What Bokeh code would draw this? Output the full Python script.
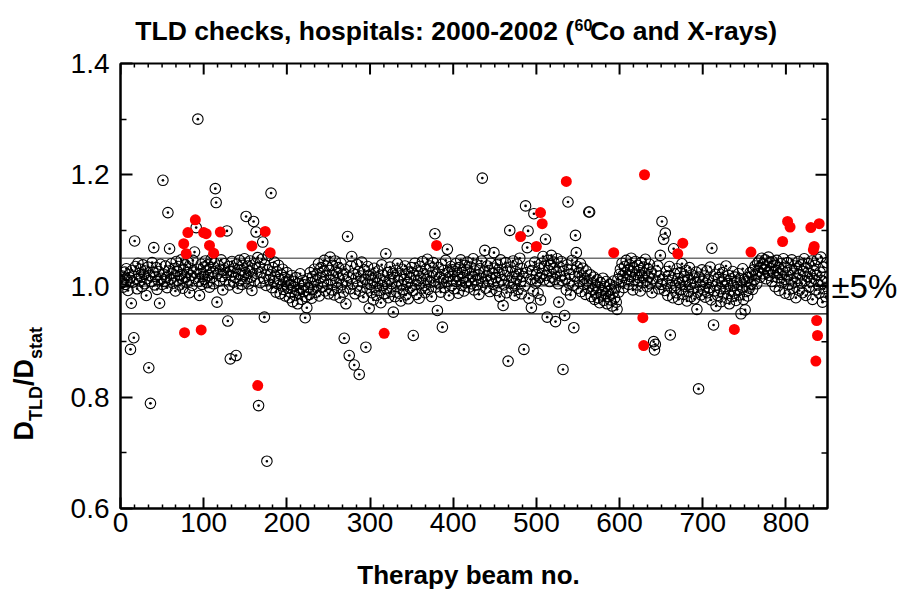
import math
from bokeh.plotting import figure
from bokeh.layouts import row, column
from bokeh.models import LinearAxis, FixedTicker, Span, Range1d, NumeralTickFormatter
from bokeh.core.properties import value
from bokeh.embed import file_html
from bokeh.resources import INLINE

# ---------------- data ----------------
# TLD / stated dose ratio for therapy beams 1..850 (open circles)
ratio_001_050 = [1.005, 1.018, 0.998, 1.012, 1.025, 1.003, 1.031, 1.010, 0.992, 1.020,
                 1.015, 0.886, 0.969, 1.028, 1.007, 0.907, 1.081, 1.035, 1.012, 0.995,
                 1.041, 1.022, 1.009, 1.030, 1.016, 0.999, 1.038, 1.021, 1.004, 1.027,
                 0.983, 1.013, 1.034, 0.853, 1.019, 0.789, 1.008, 1.042, 1.025, 1.069,
                 1.002, 1.017, 1.033, 0.994, 1.011, 1.026, 0.969, 1.039, 1.014, 1.003]
ratio_051_100 = [1.190, 1.021, 1.008, 1.036, 1.015, 0.997, 1.132, 1.027, 1.067, 1.012,
                 1.040, 1.023, 1.005, 1.031, 1.018, 0.991, 1.044, 1.026, 1.010, 1.035,
                 1.002, 1.020, 1.047, 1.013, 0.996, 1.029, 1.016, 1.038, 1.007, 1.024,
                 1.043, 1.011, 0.988, 1.032, 1.019, 1.001, 1.046, 1.025, 1.061, 1.014,
                 1.105, 1.030, 1.300, 1.008, 0.983, 1.022, 1.039, 1.003, 1.017, 1.034]
ratio_101_150 = [1.012, 1.045, 1.027, 1.006, 1.038, 1.019, 0.998, 1.033, 1.048, 1.015,
                 1.026, 1.004, 1.041, 1.175, 1.150, 0.971, 1.022, 1.036, 1.009, 1.030,
                 1.047, 1.017, 0.993, 1.028, 1.040, 1.011, 1.024, 1.099, 0.937, 1.035,
                 1.002, 0.869, 1.019, 1.044, 1.026, 1.007, 1.032, 1.015, 0.875, 1.039,
                 0.996, 1.021, 1.046, 1.010, 1.029, 1.003, 1.037, 1.018, 1.049, 1.024]
ratio_151_200 = [1.125, 1.013, 1.036, 1.004, 1.027, 1.045, 1.016, 0.992, 1.031, 1.116,
                 1.009, 1.040, 1.097, 1.022, 1.051, 0.785, 1.034, 1.006, 1.025, 1.048,
                 1.079, 1.014, 0.944, 1.038, 1.001, 0.685, 1.029, 1.055, 1.011, 1.020,
                 1.167, 0.997, 1.033, 1.008, 1.043, 1.018, 0.989, 1.026, 1.004, 1.037,
                 1.012, 0.986, 1.021, 1.000, 1.030, 0.994, 1.015, 0.982, 1.008, 1.024]
ratio_201_250 = [0.996, 1.011, 0.979, 1.003, 0.988, 1.019, 0.972, 0.999, 1.008, 0.983,
                 1.015, 0.993, 0.968, 1.004, 0.987, 1.022, 0.995, 0.976, 1.010, 0.990,
                 1.002, 0.943, 0.981, 0.961, 1.013, 0.997, 0.985, 1.024, 1.006, 0.978,
                 1.017, 0.994, 1.030, 1.009, 0.989, 1.021, 1.001, 1.040, 0.982, 1.014,
                 1.033, 0.998, 1.026, 1.007, 1.046, 0.991, 1.019, 1.036, 1.003, 0.986]
ratio_251_300 = [1.028, 1.052, 1.011, 0.993, 1.037, 1.019, 0.984, 1.045, 1.006, 1.024,
                 0.997, 1.033, 1.013, 0.979, 1.041, 1.002, 1.020, 0.989, 0.906, 1.030,
                 0.968, 1.009, 1.089, 1.016, 0.875, 0.995, 1.036, 1.053, 1.004, 1.022,
                 0.858, 0.986, 1.014, 1.039, 1.000, 1.026, 0.841, 0.991, 1.018, 1.043,
                 1.007, 0.980, 1.029, 1.012, 0.890, 0.996, 1.035, 1.019, 0.960, 1.003]
ratio_301_350 = [1.021, 0.988, 1.010, 0.975, 1.032, 0.998, 1.016, 0.983, 1.005, 1.027,
                 0.992, 1.013, 0.970, 1.038, 1.001, 1.019, 0.986, 1.008, 1.058, 0.995,
                 1.024, 0.979, 1.011, 1.034, 0.990, 1.004, 1.022, 0.953, 1.015, 0.981,
                 1.028, 0.999, 1.040, 1.009, 0.987, 1.018, 0.973, 1.002, 1.030, 0.994,
                 1.012, 1.036, 0.984, 1.021, 1.006, 0.977, 1.025, 0.997, 1.014, 1.033]
ratio_351_400 = [0.992, 0.911, 1.019, 1.041, 1.003, 0.985, 1.027, 1.010, 0.978, 1.035,
                 1.014, 0.996, 1.044, 1.022, 1.001, 0.988, 1.030, 1.012, 1.048, 0.994,
                 1.018, 1.036, 1.007, 0.981, 1.025, 1.042, 1.009, 1.094, 0.998, 1.021,
                 0.956, 1.033, 1.004, 1.016, 0.989, 1.039, 0.926, 1.013, 1.028, 0.997,
                 1.046, 1.008, 1.066, 1.024, 0.983, 1.017, 1.035, 1.001, 1.029, 1.011]
ratio_401_450 = [0.995, 1.026, 1.040, 1.008, 1.019, 0.987, 1.033, 1.012, 1.047, 1.001,
                 1.024, 1.015, 0.991, 1.037, 1.006, 1.029, 1.043, 1.010, 0.998, 1.022,
                 1.034, 1.004, 1.017, 1.049, 0.993, 1.027, 1.011, 1.038, 1.002, 1.020,
                 0.985, 1.031, 1.014, 1.045, 1.194, 1.007, 1.025, 1.064, 0.996, 1.018,
                 1.036, 1.009, 1.028, 0.990, 1.041, 1.013, 1.023, 1.003, 1.060, 1.032]
ratio_451_500 = [1.015, 0.992, 1.038, 1.006, 1.024, 0.981, 1.047, 1.011, 1.030, 0.965,
                 1.002, 1.019, 1.042, 0.988, 1.027, 0.865, 1.009, 1.100, 1.034, 0.997,
                 1.016, 1.045, 1.004, 0.983, 1.026, 1.013, 1.039, 0.994, 1.021, 1.050,
                 1.008, 0.986, 1.031, 1.017, 0.886, 1.000, 1.144, 1.024, 1.069, 1.099,
                 0.978, 1.036, 1.012, 0.961, 1.028, 0.991, 1.130, 1.043, 1.005, 1.020]
ratio_501_550 = [1.009, 0.987, 1.032, 1.015, 0.975, 1.041, 1.022, 1.053, 1.011, 1.036,
                 1.084, 1.019, 0.944, 1.046, 1.028, 1.008, 1.039, 1.055, 1.016, 1.031,
                 1.043, 1.012, 0.936, 1.025, 1.049, 1.004, 0.971, 1.034, 1.018, 1.044,
                 1.010, 0.850, 1.027, 0.947, 1.013, 0.993, 1.038, 1.151, 1.005, 1.021,
                 0.984, 1.030, 1.046, 1.001, 0.925, 1.017, 1.091, 1.060, 1.035, 0.996]
ratio_551_600 = [1.024, 1.008, 1.040, 0.990, 1.018, 1.032, 1.003, 1.014, 0.985, 1.027,
                 1.009, 0.996, 1.133, 1.133, 1.020, 0.981, 1.005, 0.993, 1.016, 0.976,
                 1.001, 0.988, 1.011, 0.979, 0.997, 0.970, 1.006, 0.984, 0.992, 1.014,
                 0.974, 0.999, 0.986, 1.008, 0.968, 0.990, 0.981, 1.003, 0.975, 0.994,
                 0.964, 0.987, 1.009, 0.978, 0.998, 0.971, 0.958, 1.012, 0.989, 1.021]
ratio_601_650 = [1.030, 1.008, 1.041, 1.019, 0.997, 1.035, 1.024, 1.046, 1.012, 1.029,
                 1.003, 1.038, 1.017, 1.050, 1.026, 0.993, 1.033, 1.011, 1.044, 1.021,
                 1.002, 1.037, 1.015, 1.028, 0.991, 1.042, 1.019, 1.006, 1.034, 1.023,
                 1.048, 1.010, 0.999, 1.031, 1.016, 1.039, 1.004, 1.025, 0.988, 1.013,
                 0.900, 0.885, 0.895, 1.027, 1.007, 1.036, 0.995, 1.018, 1.055, 1.003]
ratio_651_700 = [1.116, 1.012, 1.084, 0.992, 1.095, 1.026, 1.004, 0.983, 1.019, 1.035,
                 0.912, 0.997, 1.010, 0.979, 1.067, 1.022, 1.001, 0.988, 1.031, 1.013,
                 0.976, 1.006, 1.024, 0.994, 1.040, 1.009, 0.985, 1.017, 0.999, 1.028,
                 0.973, 1.011, 0.990, 1.033, 1.003, 0.981, 1.020, 0.996, 1.014, 0.977,
                 1.007, 1.025, 0.958, 0.989, 0.815, 1.016, 1.000, 0.984, 1.029, 1.008]
ratio_701_750 = [0.993, 1.018, 0.980, 1.005, 1.027, 0.988, 1.012, 0.997, 1.034, 0.975,
                 1.068, 1.009, 0.930, 0.991, 1.021, 0.964, 1.002, 0.983, 1.015, 1.030,
                 0.995, 0.972, 1.008, 1.024, 0.986, 1.011, 0.999, 1.036, 0.978, 1.004,
                 1.019, 0.968, 0.992, 1.013, 0.981, 1.026, 1.001, 0.987, 1.016, 0.974,
                 1.007, 0.994, 1.022, 0.984, 1.010, 0.950, 0.998, 1.031, 0.976, 1.012]
ratio_751_800 = [0.957, 0.990, 1.008, 0.982, 1.015, 0.996, 1.024, 1.003, 1.018, 0.994,
                 1.029, 1.011, 1.036, 1.020, 1.004, 1.041, 1.027, 1.045, 1.016, 1.033,
                 1.050, 1.022, 1.039, 1.030, 1.047, 1.013, 1.036, 1.025, 1.052, 1.019,
                 1.042, 1.031, 1.008, 1.044, 1.024, 1.037, 0.999, 1.028, 1.046, 1.015,
                 1.033, 0.992, 1.021, 1.040, 1.006, 1.027, 1.049, 1.012, 0.987, 1.034]
ratio_801_850 = [1.018, 1.042, 1.003, 0.985, 1.029, 1.011, 1.047, 0.996, 1.023, 1.036,
                 1.007, 0.979, 1.031, 1.014, 1.044, 0.992, 1.020, 1.038, 1.005, 0.988,
                 1.026, 1.049, 1.010, 0.983, 1.033, 1.017, 1.040, 0.998, 1.022, 1.008,
                 1.045, 0.976, 1.028, 1.013, 1.037, 0.993, 1.019, 1.048, 1.002, 0.987,
                 1.025, 1.052, 1.010, 0.971, 1.034, 0.995, 1.016, 0.981, 1.042, 1.006]

open_ratio = (ratio_001_050 + ratio_051_100 + ratio_101_150 + ratio_151_200 +
              ratio_201_250 + ratio_251_300 + ratio_301_350 + ratio_351_400 +
              ratio_401_450 + ratio_451_500 + ratio_501_550 + ratio_551_600 +
              ratio_601_650 + ratio_651_700 + ratio_701_750 + ratio_751_800 +
              ratio_801_850)
beam_no = list(range(1, len(open_ratio) + 1))

# beams flagged in red
red_beam = [76, 77, 79, 81, 90, 97, 100, 103, 107, 112, 120, 158, 165, 174, 180,
            317, 380, 481, 500, 505, 507, 536, 593, 628, 629, 630, 670, 676,
            738, 758, 796, 802, 805, 830, 833, 834, 836, 837, 838, 840]
red_ratio = [1.076, 0.916, 1.058, 1.096, 1.119, 0.921, 1.096, 1.094, 1.073, 1.059,
             1.097, 1.072, 0.821, 1.098, 1.060, 0.915, 1.073, 1.089, 1.071, 1.132,
             1.112, 1.188, 1.060, 0.943, 0.893, 1.200, 1.058, 1.077, 0.922, 1.061,
             1.080, 1.116, 1.106, 1.105, 1.065, 1.071, 0.865, 0.938, 0.911, 1.112]

tolerance_lines = [1.05, 1.00, 0.95]
x_major = [0, 100, 200, 300, 400, 500, 600, 700, 800]
y_major = [0.6, 0.8, 1.0, 1.2, 1.4]
y_minor = [0.7, 0.9, 1.1, 1.3]
x_minor = [k * 100 / 6 for k in range(1, 51) if k % 6 != 0]

X0, X1, Y0, Y1 = 0, 850, 0.6, 1.4
FONT = "Liberation Sans"
TICK_PX = "28px"
T_H, X_H = 45, 36          # heights of the title strip and x-title strip
P_H = 590 - T_H - X_H      # height of the main plot

# ---------------- main figure ----------------
p = figure(width=840, height=P_H, x_range=Range1d(X0, X1), y_range=Range1d(Y0, Y1),
           output_backend="svg", toolbar_location=None,
           min_border_left=60, min_border_right=73, min_border_top=18,
           min_border_bottom=P_H - 18 - 445)
p.grid.visible = False
p.outline_line_color = "black"
p.outline_line_width = 2
p.background_fill_color = "white"
p.border_fill_color = "white"


def style_axis(ax, major_in, minor_in):
    ax.axis_line_width = 2
    ax.axis_line_color = "black"
    ax.major_tick_in = major_in
    ax.major_tick_out = 0
    ax.minor_tick_in = minor_in
    ax.minor_tick_out = 0
    ax.major_tick_line_width = 2
    ax.minor_tick_line_width = 1.5
    ax.major_tick_line_color = "black"
    ax.minor_tick_line_color = "black"
    ax.major_label_text_font = FONT
    ax.major_label_text_color = "black"
    ax.major_label_text_font_size = TICK_PX


xa = p.xaxis[0]
xa.ticker = FixedTicker(ticks=x_major, minor_ticks=x_minor)
style_axis(xa, 11, 4)
xa.major_label_standoff = 4

ya = p.yaxis[0]
ya.ticker = FixedTicker(ticks=y_major, minor_ticks=y_minor)
ya.formatter = NumeralTickFormatter(format="0.0")
style_axis(ya, 12, 6)
ya.major_label_standoff = 11

right = LinearAxis(ticker=FixedTicker(ticks=[]), axis_label="\u00b15%",
                   axis_label_orientation="horizontal", axis_label_standoff=4,
                   axis_label_text_font=FONT, axis_label_text_font_style="normal",
                   axis_label_text_font_size="33px", axis_label_text_color="black",
                   axis_line_width=2, axis_line_color="black")
p.add_layout(right, "right")

# mirrored tick marks on the top and right frame edges
px_y = (Y1 - Y0) / 445.0
px_x = (X1 - X0) / 707.0
p.segment(x0=x_major, y0=[Y1] * len(x_major), x1=x_major, y1=[Y1 - 11 * px_y] * len(x_major),
          line_color="black", line_width=2)
p.segment(x0=x_minor, y0=[Y1] * len(x_minor), x1=x_minor, y1=[Y1 - 4 * px_y] * len(x_minor),
          line_color="black", line_width=1.5)
p.segment(x0=[X1] * len(y_major), y0=y_major, x1=[X1 - 12 * px_x] * len(y_major), y1=y_major,
          line_color="black", line_width=2)
p.segment(x0=[X1] * len(y_minor), y0=y_minor, x1=[X1 - 6 * px_x] * len(y_minor), y1=y_minor,
          line_color="black", line_width=1.5)

line_colors = ["#707070", "#707070", "black"]
line_widths = [1.5, 1.5, 1.2]
for loc, c, w in zip(tolerance_lines, line_colors, line_widths):
    p.add_layout(Span(location=loc, dimension="width", line_color=c, line_width=w, level="underlay"))

p.scatter(beam_no, open_ratio, marker="circle_dot", size=10.5, fill_color=None,
          line_color="black", line_width=1.1)
p.scatter(red_beam, red_ratio, marker="circle", size=11, fill_color="#ff0000",
          line_color=None)


def blank_fig(w, h, xr, yr):
    f = figure(width=w, height=h, x_range=Range1d(*xr), y_range=Range1d(*yr),
               output_backend="svg", toolbar_location=None, min_border=0,
               x_axis_location=None, y_axis_location=None)
    f.grid.visible = False
    f.outline_line_color = None
    f.background_fill_color = "white"
    f.border_fill_color = "white"
    return f


def put_text(f, xs, ys, texts, size, align, bold=True, angle=0.0):
    f.text(x=xs, y=ys, text=texts, angle=angle, text_font=value(FONT),
           text_font_style="bold" if bold else "normal",
           text_font_size=value(f"{size}px"), text_align=value(align),
           text_baseline=value("middle"), text_color="black")


# ---------------- title with superscript (canvas-pixel coordinates) ----------------
tfig = blank_fig(840, T_H, (60, 900), (0, T_H))
t_size, sup_size = 26.5, 16
sup_x = 599
sup_w = 2 * 0.556 * sup_size
put_text(tfig, [sup_x], [T_H - 30], ["TLD checks, hospitals: 2000-2002 ("], t_size, "right")
put_text(tfig, [sup_x + 0.5], [T_H - 24.5], ["60"], sup_size, "left")
put_text(tfig, [sup_x + sup_w + 1], [T_H - 30], ["Co and X-rays)"], t_size, "left")

# ---------------- y axis title: D_TLD / D_stat (rotated, with subscripts) ----------------
yfig = blank_fig(60, 590, (0, 60), (0, 590))
big, small = 27, 18
start = 150
pos_D = start
pos_TLD = pos_D + 0.722 * big
pos_slash = pos_TLD + 1.944 * small
pos_stat = pos_slash + 1.0 * big
put_text(yfig, [23, 23], [pos_D, pos_slash], ["D", "/D"], big, "left", angle=math.pi / 2)
put_text(yfig, [35, 35], [pos_TLD, pos_stat], ["TLD", "stat"], small, "left", angle=math.pi / 2)

# ---------------- x axis title ----------------
xfig = blank_fig(840, X_H, (60, 900), (0, X_H))
put_text(xfig, [473.5], [15.5], ["Therapy beam no."], 26, "center")

layout = row(yfig, column(tfig, p, xfig, spacing=0), spacing=0)
open("out.html", "w").write(file_html(layout, INLINE))
